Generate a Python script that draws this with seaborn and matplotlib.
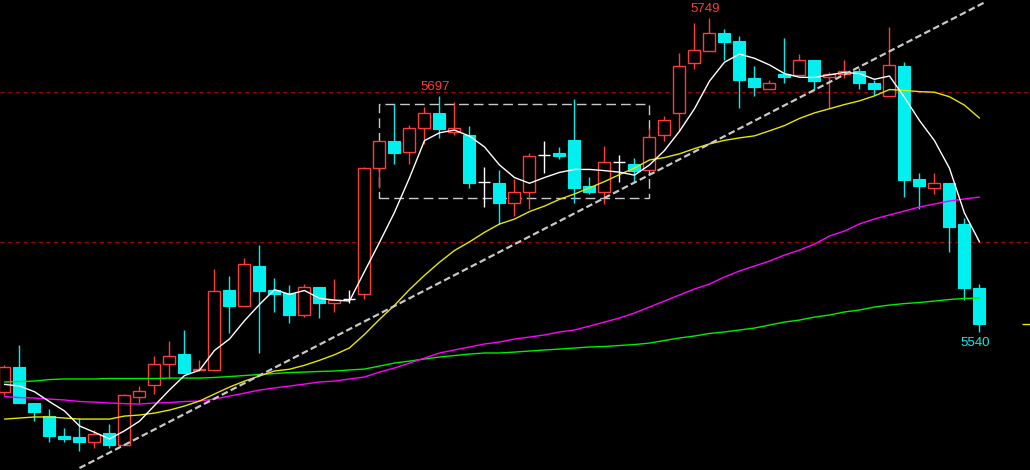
import matplotlib
matplotlib.use("Agg")
import matplotlib.pyplot as plt
from matplotlib.patches import Rectangle
import pandas as pd
import seaborn as sns

# candle data (one entry per bar)
opens = [5500, 5517, 5493, 5484, 5471, 5470, 5467, 5473, 5465, 5497,
         5505, 5519, 5525, 5514.5, 5515, 5568, 5557, 5584, 5568, 5566,
         5551, 5570, 5559, 5562, 5565, 5649, 5667, 5660, 5676, 5686,
         5673, 5671, 5640, 5639, 5626, 5633, 5658, 5659, 5668, 5637,
         5633, 5653, 5652, 5648, 5671, 5686, 5719, 5727, 5739, 5734,
         5709, 5702, 5712, 5711, 5721, 5710, 5712, 5714, 5706, 5697,
         5717, 5642, 5636, 5639, 5612, 5569]
highs = [5518, 5531, 5493, 5489, 5476, 5483, 5475, 5479, 5499, 5504,
         5524, 5534, 5541, 5521, 5582, 5577, 5589, 5598, 5576, 5571,
         5572, 5570, 5575, 5568, 5650, 5668, 5692, 5678, 5690, 5697,
         5693, 5677, 5650, 5648, 5642, 5659, 5667, 5663, 5695, 5643,
         5664, 5658, 5656, 5676, 5684, 5726, 5746, 5749, 5742, 5737,
         5717, 5708, 5736, 5725, 5721, 5713, 5721, 5716, 5708, 5743,
         5720, 5646, 5646, 5639, 5616, 5572]
lows = [5498, 5493, 5481, 5467, 5467, 5461, 5463, 5463, 5465, 5493,
        5499, 5509, 5513, 5514, 5515, 5539, 5557, 5526, 5553, 5546,
        5550, 5549, 5553, 5559, 5562, 5636, 5652, 5652, 5665, 5669,
        5671, 5636, 5623, 5612, 5617, 5622, 5646, 5655, 5626, 5632,
        5625, 5640, 5640, 5648, 5667, 5674, 5715, 5727, 5721, 5689,
        5697, 5702, 5706, 5711, 5701, 5689, 5709, 5702, 5698, 5697,
        5630, 5622, 5632, 5593, 5561, 5540]
closes = [5517, 5493, 5487, 5471, 5469, 5467, 5472, 5465, 5498, 5501,
          5519, 5524, 5513, 5515.5, 5567, 5557, 5585, 5567, 5565, 5551,
          5570, 5559, 5561, 5562, 5649, 5667, 5659, 5676, 5686, 5675,
          5676, 5639, 5640, 5626, 5633, 5657, 5658, 5657, 5636, 5633,
          5653, 5653, 5647, 5670, 5681, 5717, 5728, 5739, 5733, 5708,
          5703, 5706, 5710, 5721, 5707, 5712, 5714, 5706, 5702, 5718,
          5641, 5637, 5639, 5610, 5569, 5545]

# moving average values before enough bars are on screen
ma5_head = [5505.1, 5504.0, 5500.2, 5493.6]
ma20_head = [5482.0, 5482.7, 5483.4, 5483.4, 5482.7, 5482.0, 5482.0, 5482.0,
             5484.0, 5484.7, 5486.0, 5488.0, 5490.7, 5494.0, 5498.7, 5503.3,
             5507.3, 5510.7, 5514.0]
ma60 = [5497.0, 5496.3, 5496.0, 5495.3, 5494.7, 5493.7, 5493.3, 5492.7, 5492.3, 5492.0,
        5492.7, 5493.0, 5493.7, 5494.0, 5495.3, 5497.3, 5499.3, 5501.3, 5502.7, 5504.0,
        5505.3, 5506.7, 5507.3, 5508.7, 5510.0, 5513.3, 5516.0, 5519.3, 5522.6, 5526.0,
        5528.0, 5530.0, 5532.0, 5533.3, 5535.3, 5536.6, 5538.0, 5540.0, 5541.3, 5543.9,
        5546.6, 5549.3, 5552.6, 5556.6, 5560.6, 5564.6, 5568.6, 5571.9, 5576.6, 5580.6,
        5583.9, 5587.2, 5591.2, 5594.5, 5598.5, 5603.9, 5607.2, 5611.9, 5615.2, 5617.9,
        5620.5, 5623.2, 5625.2, 5627.2, 5628.5, 5629.8]
ma120 = [5506.7, 5507.0, 5507.3, 5508.3, 5508.7, 5508.7, 5508.7, 5509.0, 5509.0, 5509.0,
         5509.0, 5509.3, 5509.3, 5509.3, 5509.7, 5510.3, 5511.0, 5511.7, 5512.3, 5513.0,
         5513.3, 5513.7, 5514.0, 5514.7, 5515.3, 5517.3, 5519.3, 5520.6, 5522.0, 5523.3,
         5524.3, 5525.3, 5526.0, 5526.0, 5526.6, 5527.3, 5528.0, 5528.6, 5529.3, 5530.0,
         5530.3, 5531.0, 5531.6, 5532.6, 5534.3, 5536.0, 5537.3, 5539.0, 5540.0, 5541.3,
         5542.6, 5544.6, 5546.6, 5547.9, 5549.9, 5551.3, 5553.3, 5554.6, 5556.6, 5557.9,
         5558.9, 5559.6, 5560.6, 5561.6, 5562.3, 5562.6]

# drawn objects
ref_levels = [5700, 5600]
trend_x = [5.0, 65.4]
trend_y = [5449.4, 5759.7]
box_x = [25, 43]
box_y = [5629, 5692]
label_highs = [29, 47]   # bars with a red high label
label_low = 65           # bar with the cyan low label

RED = "#ff3b3b"
CYAN = "#00f0f0"

df = pd.DataFrame({"open": opens, "high": highs, "low": lows, "close": closes})
df["idx"] = range(len(df))
df["ma5"] = df["close"].rolling(5).mean()
df.loc[:3, "ma5"] = ma5_head
df["ma20"] = df["close"].rolling(20).mean()
df.loc[:18, "ma20"] = ma20_head
df["ma60"] = ma60
df["ma120"] = ma120

sns.set_theme(style="dark", rc={"axes.facecolor": "black", "figure.facecolor": "black"})
plt.rcParams["font.family"] = ["Liberation Sans", "DejaVu Sans"]

fig = plt.figure(figsize=(10.3, 4.7), dpi=100)
ax = fig.add_axes([0, 0, 1, 1])
ax.set_facecolor("black")

# reference levels
for lvl in ref_levels:
    ax.axhline(lvl, color="#a00000", lw=1, ls=(0, (3, 2.5)), zorder=1)

# candles
w = 0.8
for _, r in df.iterrows():
    i, o, h, l, c = r["idx"], r["open"], r["high"], r["low"], r["close"]
    if c > o:
        ax.vlines(i, c, h, color=RED, lw=1, zorder=3)
        ax.vlines(i, l, o, color=RED, lw=1, zorder=3)
        ax.bar(i, c - o, bottom=o, width=w, facecolor="black", edgecolor=RED, lw=1, zorder=3)
    elif c < o:
        ax.vlines(i, l, h, color=CYAN, lw=1, zorder=3)
        ax.bar(i, o - c, bottom=c, width=w, facecolor=CYAN, edgecolor=CYAN, lw=0.8, zorder=3)
    else:
        ax.vlines(i, l, h, color="white", lw=1, zorder=3)
        ax.hlines(c, i - w / 2, i + w / 2, color="white", lw=1, zorder=3)

# moving averages
sns.lineplot(data=df, x="idx", y="ma120", ax=ax, color="#00ee00", lw=1, zorder=4)
sns.lineplot(data=df, x="idx", y="ma60", ax=ax, color="#ff00ff", lw=1, zorder=4)
sns.lineplot(data=df, x="idx", y="ma20", ax=ax, color="#e6e600", lw=1, zorder=4)
sns.lineplot(data=df, x="idx", y="ma5", ax=ax, color="white", lw=1, zorder=5)

# trend line and consolidation box
ax.plot(trend_x, trend_y, color="#c8c8c8", lw=1.6, ls=(0, (3, 1.5)), zorder=6)
ax.add_patch(Rectangle((box_x[0], box_y[0]), box_x[1] - box_x[0], box_y[1] - box_y[0],
                       fill=False, edgecolor="#c8c8c8", lw=1, ls=(0, (7, 3.6)), zorder=2))

# last price marker at the right edge
ax.hlines(closes[-1], 67.85, 68.5, color="#e6e600", lw=1)

# high / low labels
for k in label_highs:
    ax.annotate(f"{highs[k]:.0f}", xy=(k, highs[k]), xytext=(-3.2, 2), textcoords="offset points",
                ha="center", va="bottom", color=RED, fontsize=9.5)
ax.annotate(f"{lows[label_low]:.0f}", xy=(label_low, lows[label_low]), xytext=(-3.2, -3.5),
            textcoords="offset points", ha="center", va="top", color=CYAN, fontsize=9.5)

ax.set_xlim(-0.3, 68.37)
ax.set_ylim(5448.1, 5761.0)
ax.set_xticks([])
ax.set_yticks([])
ax.set_xlabel("")
ax.set_ylabel("")
for s in ax.spines.values():
    s.set_visible(False)
ax.grid(False)

fig.savefig("out.png", dpi=100, facecolor="black")
